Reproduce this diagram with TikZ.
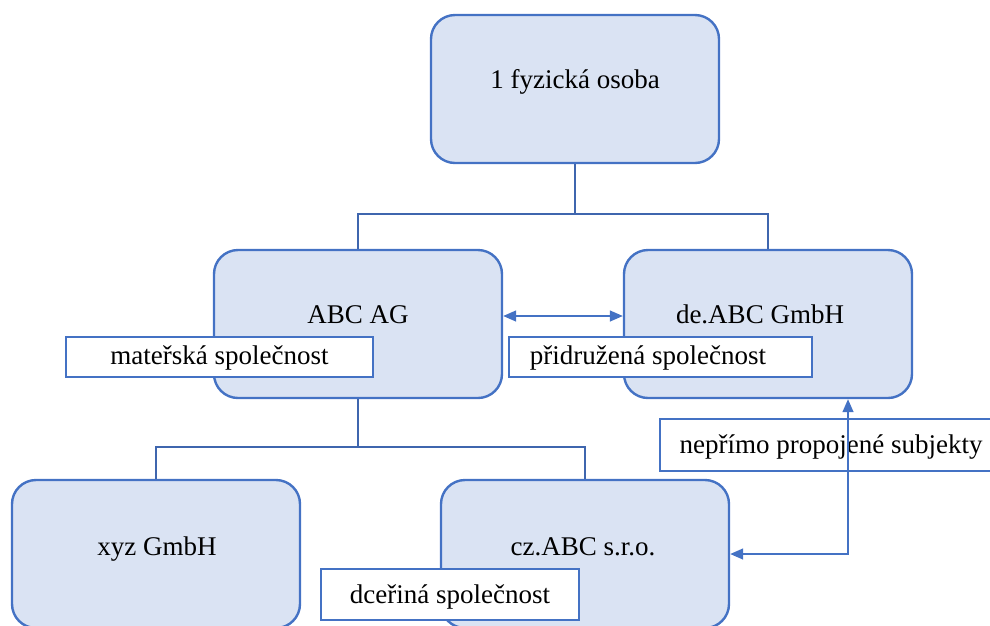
\documentclass[tikz,border=0pt]{standalone}
\usepackage{fontspec}
\setmainfont{Liberation Serif}
\newfontfamily\lserif{Liberation Serif}
\usetikzlibrary{arrows.meta}
\definecolor{boxfill}{HTML}{DAE3F3}
\definecolor{boxline}{HTML}{4472C4}
\definecolor{treeline}{HTML}{3F66AE}
\tikzset{
  orgbox/.style={draw=boxline, fill=boxfill, line width=2.4pt, rounded corners=24pt,
    minimum width=288pt, minimum height=148pt, inner sep=0pt},
  labelbox/.style={draw=boxline, fill=white, line width=2.4pt, inner sep=0pt},
  txt/.style={anchor=base, inner sep=0pt, font=\lserif\fontsize{27}{32}\selectfont},
  tree/.style={draw=treeline, line width=2.8pt},
  linkarrow/.style={draw=boxline, line width=1.4pt, {Triangle[length=13pt,width=11pt]}-{Triangle[length=13pt,width=11pt]}},
}
\begin{document}
\begin{tikzpicture}[x=1pt,y=-1pt]
\useasboundingbox (0,0) rectangle (990,625);
\clip (0,0) rectangle (990,625);
% boxes
\node[orgbox] (top) at (575,89) {};
\node[orgbox] (abc) at (358,324) {};
\node[orgbox] (de) at (768,324) {};
\node[orgbox] (xyz) at (156,554) {};
\node[orgbox] (cz) at (585,554) {};
% tree connectors
\coordinate (j1) at (575,214);
\coordinate (j2) at (358,447);
\draw[tree] (top.south) -- (j1);
\draw[tree] (abc.north) |- (j1) -| (de.north);
\draw[tree] (abc.south) -- (j2);
\draw[tree] (xyz.north) |- (j2) -| (cz.north);
% box texts
\node[txt] (ttop) at (575,88) {1 fyzická osoba};
\node[txt] (tabc) at (358,323) {ABC AG};
\node[txt] (tde) at (760,323) {de.ABC GmbH};
\node[txt] (txyz) at (157,555) {xyz GmbH};
\node[txt] (tcz) at (583,555) {cz.ABC s.r.o.};
% label boxes
\node[labelbox, minimum width=307pt, minimum height=40pt] (lmat) at (219.5,357) {};
\node[labelbox, minimum width=303pt, minimum height=40pt] (lpri) at (660.5,357) {};
\node[labelbox, minimum width=340pt, minimum height=52pt] (lnep) at (830,445) {};
\node[labelbox, minimum width=258pt, minimum height=51pt] (ldce) at (450,594.5) {};
\node[txt] (tmat) at (219.5,364) {mateřská společnost};
\node[txt] (tpri) at (648,364) {přidružená společnost};
\node[txt] (tnep) at (831,453) {nepřímo propojené subjekty};
\node[txt] (tdce) at (450,603) {dceřiná společnost};
% arrows
\draw[linkarrow] ([yshift=8pt]abc.east) -- ([yshift=8pt]de.west);
\draw[linkarrow] (cz.east) -| ([xshift=80pt]de.south);
\end{tikzpicture}
\end{document}
